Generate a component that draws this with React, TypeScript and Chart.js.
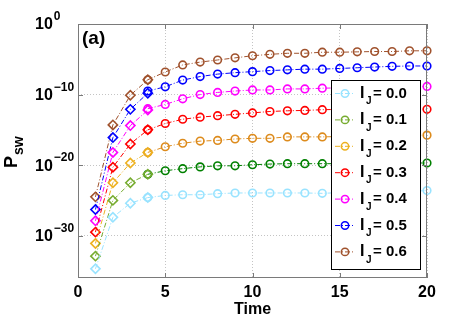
import React, { useEffect, useRef } from 'react';
import { Chart, registerables } from 'chart.js';

Chart.register(...registerables);

// ---------- data ----------
const ijLabels = ['0.0', '0.1', '0.2', '0.3', '0.4', '0.5', '0.6'];
const earlyTimes = [1, 2, 3, 4];
const lateTimes = [4, 5, 6, 7, 8, 9, 10, 11, 12, 13, 14, 15, 16, 17, 18, 19, 20];

// log10(P_sw), early times (diamonds)
const early00 = [-34.7, -27.4, -25.4, -24.6];
const early01 = [-32.9, -25.0, -22.5, -21.3];
const early02 = [-31.1, -22.5, -19.7, -18.2];
const early03 = [-29.5, -20.3, -17.0, -15.0];
const early04 = [-27.9, -18.2, -14.4, -12.2];
const early05 = [-26.3, -16.1, -12.1, -9.8];
const early06 = [-24.5, -14.3, -10.1, -7.9];

// log10(P_sw), later times (circles)
const late00 = [-24.6, -24.3, -24.2, -24.2, -24.05, -23.95, -23.95, -23.95, -23.95, -23.95, -24.0, -23.9, -23.9, -23.85, -23.8, -23.75, -23.6];
const late01 = [-21.3, -20.8, -20.5, -20.25, -20.1, -20.1, -19.95, -19.85, -19.8, -19.8, -19.8, -19.8, -19.75, -19.75, -19.7, -19.7, -19.7];
const late02 = [-18.2, -17.4, -16.9, -16.6, -16.5, -16.3, -16.2, -16.2, -16.0, -16.0, -16.0, -15.95, -15.9, -15.85, -15.8, -15.8, -15.75];
const late03 = [-15.0, -14.1, -13.5, -13.2, -13.0, -12.8, -12.6, -12.4, -12.3, -12.25, -12.15, -12.1, -12.1, -12.05, -12.0, -12.0, -12.1];
const late04 = [-12.0, -11.4, -10.6, -10.0, -9.7, -9.5, -9.35, -9.35, -9.2, -9.2, -9.1, -9.05, -9.0, -8.95, -8.9, -8.9, -8.85];
const late05 = [-9.5, -8.9, -7.95, -7.45, -7.1, -6.9, -6.75, -6.6, -6.5, -6.4, -6.4, -6.3, -6.2, -6.1, -6.0, -5.95, -5.95];
const late06 = [-7.9, -6.8, -5.8, -5.4, -5.1, -4.8, -4.5, -4.3, -4.15, -4.15, -4.0, -4.0, -3.95, -3.9, -3.9, -3.8, -3.8];

const earlySeries = [early00, early01, early02, early03, early04, early05, early06];
const lateSeries = [late00, late01, late02, late03, late04, late05, late06];

const earlyColors = ['#99e3ff', '#77ac30', '#edb120', '#ff0000', '#ff00ff', '#0000ff', '#a0522d'];
const lateColors = ['#99e3ff', '#008000', '#dd8b1c', '#ff0000', '#ff00ff', '#0000ff', '#a0522d'];

const xTickValues = [0, 5, 10, 15, 20];
const yTickValues = [1e-30, 1e-20, 1e-10, 1];

const FONT = "'Liberation Sans', Arial, Helvetica, sans-serif";
const FRAME = '#7a7a7a';
const DASH = [5, 2, 1, 2];

const decorPlugin = {
  id: 'decor',
  afterDraw(chart: any) {
    const ctx = chart.ctx as CanvasRenderingContext2D;
    const { left, right, top, bottom } = chart.chartArea;
    const xs = chart.scales.x;
    const ys = chart.scales.y;
    ctx.save();

    // frame
    ctx.strokeStyle = FRAME;
    ctx.lineWidth = 1;
    ctx.setLineDash([]);
    ctx.strokeRect(left + 0.5, top + 0.5, right - left - 1, bottom - top - 1);

    // inner tick marks
    ctx.beginPath();
    for (const v of xTickValues) {
      const px = Math.round(xs.getPixelForValue(v)) + 0.5;
      ctx.moveTo(px, bottom); ctx.lineTo(px, bottom - 5);
      ctx.moveTo(px, top); ctx.lineTo(px, top + 5);
    }
    for (const v of yTickValues) {
      const py = Math.round(ys.getPixelForValue(v)) + 0.5;
      ctx.moveTo(left, py); ctx.lineTo(left + 5, py);
      ctx.moveTo(right, py); ctx.lineTo(right - 5, py);
    }
    ctx.stroke();

    // y tick labels with superscript exponents
    ctx.fillStyle = '#000';
    ctx.textAlign = 'left';
    ctx.textBaseline = 'middle';
    for (const v of yTickValues) {
      const py = ys.getPixelForValue(v);
      const e = Math.round(Math.log10(v));
      ctx.font = `bold 16px ${FONT}`;
      ctx.fillText('10', 35, py + 1);
      const w = ctx.measureText('10').width;
      ctx.font = `bold 12px ${FONT}`;
      ctx.fillText(e === 0 ? '0' : '\u2212' + Math.abs(e), 35 + w + 1, py - 7);
    }

    // y axis title P_sw
    ctx.save();
    const cy = (top + bottom) / 2;
    ctx.translate(17, cy + 17);
    ctx.rotate(-Math.PI / 2);
    ctx.textBaseline = 'alphabetic';
    ctx.font = `bold 18px ${FONT}`;
    ctx.fillText('P', 0, 0);
    const pw = ctx.measureText('P').width;
    ctx.font = `bold 14px ${FONT}`;
    ctx.fillText('sw', pw + 1, 6);
    ctx.restore();

    // panel label
    ctx.font = `bold 19px ${FONT}`;
    ctx.textBaseline = 'middle';
    ctx.fillText('(a)', left + 4, top + 15);

    // legend
    const lx = 331, ly = 80, lw = 89, lh = 189;
    ctx.fillStyle = '#fff';
    ctx.fillRect(lx, ly, lw, lh);
    ctx.strokeStyle = '#000';
    ctx.strokeRect(lx + 0.5, ly + 0.5, lw, lh);
    const rowH = 26.4;
    ijLabels.forEach((lab, i) => {
      const ry = ly + 13.5 + i * rowH;
      ctx.strokeStyle = earlyColors[i];
      ctx.lineWidth = 1;
      ctx.setLineDash(DASH);
      ctx.beginPath();
      ctx.moveTo(lx + 4, ry); ctx.lineTo(lx + 22, ry);
      ctx.stroke();
      ctx.setLineDash([]);
      ctx.lineWidth = 1.5;
      ctx.beginPath();
      ctx.arc(lx + 14, ry, 3.7, 0, Math.PI * 2);
      ctx.stroke();
      ctx.fillStyle = '#000';
      ctx.textBaseline = 'middle';
      ctx.font = `bold 16px ${FONT}`;
      ctx.fillText('I', lx + 29, ry);
      ctx.font = `bold 10px ${FONT}`;
      ctx.fillText('J', lx + 35, ry + 8);
      ctx.font = `bold 15px ${FONT}`;
      ctx.fillText('= 0' + lab.slice(1), lx + 42, ry);
    });

    ctx.restore();
  },
};

export default function App() {
  const ref = useRef<HTMLCanvasElement>(null);
  useEffect(() => {
    document.body.style.margin = '0';
    const datasets: any[] = [];
    for (let i = 0; i < ijLabels.length; i++) {
      datasets.push({
        label: 'IJ early ' + ijLabels[i],
        data: earlyTimes.map((t, k) => ({ x: t, y: Math.pow(10, earlySeries[i][k]) })),
        borderColor: earlyColors[i],
        backgroundColor: 'transparent',
        pointBackgroundColor: 'transparent',
        borderWidth: 1,
        borderDash: DASH,
        pointStyle: 'rectRot',
        pointRadius: 4.6,
        pointBorderWidth: 1.6,
        clip: false,
      });
      datasets.push({
        label: 'IJ = ' + ijLabels[i],
        data: lateTimes.map((t, k) => ({ x: t, y: Math.pow(10, lateSeries[i][k]) })),
        borderColor: lateColors[i],
        backgroundColor: 'transparent',
        pointBackgroundColor: 'transparent',
        borderWidth: 1,
        borderDash: DASH,
        pointStyle: 'circle',
        pointRadius: 3.8,
        pointBorderWidth: 1.6,
        clip: false,
      });
    }
    const chart = new Chart(ref.current as HTMLCanvasElement, {
      type: 'line',
      data: { datasets },
      options: {
        responsive: false,
        animation: false,
        layout: { padding: { top: 24, right: 44, left: 0, bottom: 0 } },
        plugins: { legend: { display: false }, tooltip: { enabled: false } },
        scales: {
          x: {
            type: 'linear',
            min: 0,
            max: 20,
            afterFit: (s: any) => { s.height = 42; },
            ticks: {
              stepSize: 5,
              padding: 5,
              color: '#000',
              font: { family: FONT, size: 16, weight: 'bold' },
            },
            grid: { color: '#c4c4c4', lineWidth: 1, drawTicks: false },
            border: { display: false, dash: [1, 2] },
            title: {
              display: true,
              text: 'Time',
              color: '#000',
              font: { family: FONT, size: 16, weight: 'bold' },
              padding: { top: 0, bottom: 1 },
            },
          },
          y: {
            type: 'logarithmic',
            min: 1e-36,
            max: 1,
            afterFit: (s: any) => { s.width = 78; },
            afterBuildTicks: (s: any) => { s.ticks = yTickValues.map((v) => ({ value: v })); },
            ticks: { display: false },
            grid: { color: '#c4c4c4', lineWidth: 1, drawTicks: false },
            border: { display: false, dash: [1, 2] },
          },
        },
      } as any,
      plugins: [decorPlugin],
    });
    return () => chart.destroy();
  }, []);
  return <canvas ref={ref} width={471} height={320} style={{ display: 'block' }} />;
}
